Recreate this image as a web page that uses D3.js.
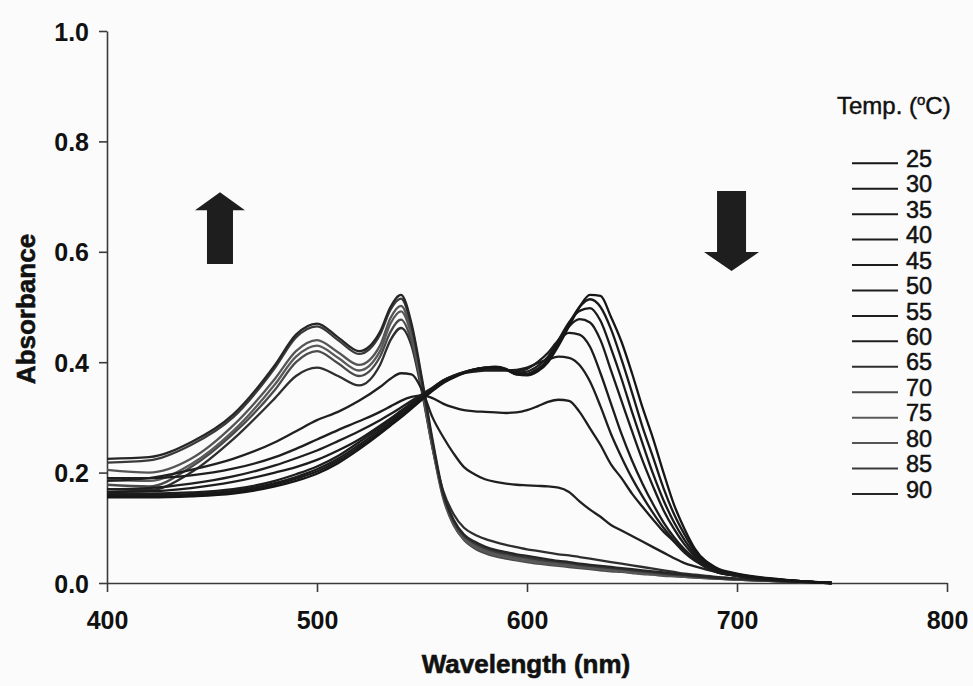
<!DOCTYPE html>
<html><head><meta charset="utf-8">
<script src="https://cdn.jsdelivr.net/npm/d3@7/dist/d3.min.js"></script>
<style>
html,body{margin:0;padding:0;background:#fbfbfb;}
svg{display:block;}
</style></head>
<body>
<svg id="chart" width="973" height="686"></svg>
<script>
// ---- data ----
const wavelengths = [400,420,440,460,480,490,500,510,520,530,535,540,545,550,555,560,565,570,575,580,585,590,595,600,605,610,615,620,625,630,635,640,645,650,655,660,665,670,675,680,690,700,720,745];
const temps = [25,30,35,40,45,50,55,60,65,70,75,80,85,90];
const abs25 = [0.155,0.155,0.157,0.162,0.175,0.185,0.198,0.217,0.242,0.27,0.285,0.3,0.316,0.332,0.348,0.362,0.372,0.38,0.386,0.39,0.392,0.388,0.378,0.376,0.383,0.40,0.43,0.465,0.50,0.522,0.52,0.482,0.437,0.38,0.318,0.262,0.2,0.142,0.098,0.062,0.028,0.017,0.007,0];
const abs30 = [0.157,0.157,0.159,0.164,0.178,0.189,0.202,0.221,0.246,0.273,0.288,0.303,0.318,0.334,0.35,0.364,0.373,0.381,0.387,0.39,0.391,0.387,0.378,0.377,0.385,0.402,0.435,0.47,0.5,0.514,0.5,0.46,0.405,0.345,0.283,0.228,0.172,0.125,0.088,0.057,0.026,0.016,0.006,0];
const abs35 = [0.159,0.159,0.161,0.167,0.181,0.192,0.206,0.225,0.25,0.277,0.291,0.306,0.321,0.336,0.351,0.365,0.374,0.381,0.387,0.39,0.39,0.386,0.379,0.379,0.388,0.405,0.44,0.472,0.493,0.498,0.475,0.425,0.37,0.31,0.253,0.198,0.15,0.11,0.078,0.052,0.024,0.015,0.006,0];
const abs40 = [0.162,0.162,0.164,0.17,0.185,0.197,0.211,0.23,0.255,0.281,0.295,0.309,0.323,0.338,0.352,0.366,0.375,0.382,0.387,0.389,0.389,0.386,0.381,0.383,0.393,0.41,0.44,0.465,0.478,0.472,0.44,0.385,0.33,0.275,0.222,0.175,0.132,0.098,0.07,0.048,0.022,0.014,0.006,0];
const abs45 = [0.165,0.166,0.172,0.183,0.2,0.21,0.223,0.24,0.26,0.285,0.298,0.312,0.326,0.34,0.353,0.367,0.376,0.382,0.386,0.388,0.388,0.386,0.384,0.388,0.4,0.417,0.44,0.453,0.45,0.428,0.38,0.325,0.27,0.222,0.18,0.143,0.11,0.083,0.061,0.044,0.021,0.013,0.005,0];
const abs50 = [0.17,0.172,0.18,0.193,0.213,0.226,0.24,0.257,0.275,0.295,0.306,0.318,0.33,0.342,0.354,0.367,0.375,0.38,0.383,0.385,0.385,0.385,0.386,0.39,0.398,0.405,0.41,0.408,0.395,0.365,0.32,0.27,0.228,0.19,0.157,0.127,0.1,0.077,0.058,0.042,0.02,0.013,0.005,0];
const abs55 = [0.19,0.19,0.195,0.207,0.228,0.243,0.26,0.277,0.293,0.31,0.32,0.33,0.337,0.34,0.335,0.325,0.318,0.313,0.311,0.31,0.309,0.308,0.309,0.313,0.32,0.328,0.332,0.33,0.31,0.28,0.25,0.215,0.19,0.162,0.138,0.115,0.093,0.075,0.055,0.04,0.02,0.013,0.006,0];
const abs60 = [0.185,0.19,0.205,0.225,0.255,0.275,0.295,0.31,0.33,0.355,0.37,0.38,0.378,0.35,0.30,0.265,0.235,0.21,0.197,0.188,0.183,0.18,0.178,0.177,0.176,0.175,0.173,0.165,0.148,0.133,0.12,0.105,0.095,0.085,0.075,0.065,0.055,0.045,0.036,0.03,0.02,0.013,0.006,0];
const abs65 = [0.17,0.168,0.2,0.26,0.335,0.375,0.39,0.375,0.358,0.395,0.44,0.462,0.43,0.345,0.245,0.168,0.125,0.1,0.088,0.08,0.074,0.069,0.065,0.061,0.058,0.055,0.052,0.05,0.047,0.044,0.041,0.038,0.035,0.032,0.029,0.026,0.023,0.02,0.017,0.015,0.011,0.008,0.004,0];
const abs70 = [0.178,0.175,0.21,0.27,0.35,0.40,0.42,0.398,0.375,0.41,0.455,0.477,0.438,0.35,0.245,0.155,0.105,0.078,0.063,0.054,0.048,0.044,0.041,0.038,0.035,0.033,0.031,0.029,0.027,0.025,0.023,0.021,0.02,0.018,0.016,0.015,0.013,0.012,0.011,0.01,0.008,0.006,0.003,0];
const abs75 = [0.187,0.185,0.215,0.275,0.36,0.41,0.43,0.408,0.385,0.42,0.47,0.492,0.448,0.355,0.248,0.158,0.108,0.08,0.066,0.057,0.051,0.047,0.043,0.04,0.037,0.035,0.033,0.031,0.029,0.027,0.025,0.023,0.021,0.019,0.017,0.016,0.014,0.013,0.011,0.01,0.008,0.006,0.003,0];
const abs80 = [0.205,0.2,0.225,0.285,0.37,0.42,0.44,0.418,0.395,0.43,0.48,0.502,0.455,0.36,0.25,0.16,0.11,0.083,0.069,0.06,0.054,0.05,0.046,0.043,0.04,0.037,0.035,0.033,0.031,0.029,0.027,0.025,0.023,0.021,0.019,0.017,0.015,0.014,0.012,0.011,0.008,0.006,0.003,0];
const abs85 = [0.218,0.222,0.25,0.3,0.39,0.445,0.465,0.44,0.415,0.45,0.495,0.515,0.465,0.365,0.255,0.162,0.112,0.085,0.072,0.063,0.057,0.053,0.049,0.046,0.043,0.04,0.038,0.036,0.033,0.031,0.029,0.027,0.025,0.023,0.021,0.019,0.017,0.015,0.014,0.012,0.009,0.007,0.003,0];
const abs90 = [0.225,0.228,0.255,0.305,0.395,0.45,0.47,0.445,0.42,0.455,0.5,0.522,0.47,0.37,0.26,0.165,0.115,0.088,0.075,0.066,0.06,0.056,0.052,0.049,0.046,0.043,0.04,0.038,0.035,0.033,0.031,0.029,0.027,0.025,0.023,0.021,0.019,0.017,0.015,0.013,0.01,0.008,0.004,0];
const xTicks = [400,500,600,700,800];
const yTicks = [0.0,0.2,0.4,0.6,0.8,1.0];
// annotation arrows (wavelength centre, top absorbance, bottom absorbance)
const arrowUp = {wl: 453.8, top: 0.708, bottom: 0.578};
const arrowDown = {wl: 697.4, top: 0.71, bottom: 0.565};

const seriesValues = [abs25,abs30,abs35,abs40,abs45,abs50,abs55,abs60,abs65,abs70,abs75,abs80,abs85,abs90];
const lineColors = ["#161616","#1a1a1a","#1a1a1a","#1c1c1c","#1c1c1c","#1e1e1e","#1e1e1e","#202020","#2e2e2e","#4a4a4a","#5a5a5a","#555555","#3a3a3a","#262626"];

// ---- chart ----
const svg = d3.select("#chart");
const x = d3.scaleLinear().domain([400,800]).range([107,947]);
const y = d3.scaleLinear().domain([0,1]).range([583,31]);

const fontMain = "'Liberation Sans', Arial, sans-serif";

// axes
const xAxis = svg.append("g").attr("transform", `translate(0,${y(0)})`)
  .call(d3.axisBottom(x).tickValues(xTicks).tickSize(9).tickSizeOuter(0).tickPadding(19).tickFormat(d3.format("d")));
const yAxis = svg.append("g").attr("transform", `translate(${x(400)},0)`)
  .call(d3.axisLeft(y).tickValues(yTicks).tickSize(8).tickSizeOuter(0).tickPadding(10).tickFormat(d3.format(".1f")));
[xAxis, yAxis].forEach(g => {
  g.select(".domain").attr("stroke", "#3a3a3a").attr("stroke-width", 1.6);
  g.selectAll(".tick line").attr("stroke", "#3a3a3a").attr("stroke-width", 1.6);
  g.selectAll(".tick text").attr("font-family", fontMain).attr("font-size", 25)
    .attr("font-weight", "bold").attr("fill", "#111");
});
yAxis.selectAll(".tick text").attr("dy", "0.36em");

// axis titles
svg.append("text").attr("x", 526).attr("y", 673).attr("text-anchor", "middle")
  .attr("font-family", fontMain).attr("font-size", 26).attr("font-weight", "bold")
  .attr("fill", "#111").attr("stroke", "#111").attr("stroke-width", 0.6)
  .text("Wavelength (nm)");
svg.append("text").attr("transform", "translate(35,309) rotate(-90)").attr("text-anchor", "middle")
  .attr("font-family", fontMain).attr("font-size", 26).attr("font-weight", "bold")
  .attr("fill", "#111").attr("stroke", "#111").attr("stroke-width", 0.6)
  .text("Absorbance");

// curves
const line = d3.line().x((d, i) => x(wavelengths[i])).y(d => y(d)).curve(d3.curveMonotoneX);
const drawOrder = [8,9,10,11,12,13,7,6,5,4,3,2,1,0];
svg.append("g").selectAll("path").data(drawOrder).join("path")
  .attr("d", k => line(seriesValues[k]))
  .attr("fill", "none")
  .attr("stroke", k => lineColors[k])
  .attr("stroke-width", 2.3)
  .attr("stroke-linejoin", "round");

// arrows
function arrowPath(a, up) {
  const cx = x(a.wl), yt = y(a.top), yb = y(a.bottom);
  const hw = up ? 25 : 27.5, sw = up ? 13 : 14.5, hh = up ? 18 : 19;
  if (up) {
    return `M${cx},${yt} L${cx+hw},${yt+hh} L${cx+sw},${yt+hh} L${cx+sw},${yb} L${cx-sw},${yb} L${cx-sw},${yt+hh} L${cx-hw},${yt+hh} Z`;
  }
  return `M${cx-sw},${yt} L${cx+sw},${yt} L${cx+sw},${yb-hh} L${cx+hw},${yb-hh} L${cx},${yb} L${cx-hw},${yb-hh} L${cx-sw},${yb-hh} Z`;
}
svg.append("path").attr("d", arrowPath(arrowUp, true)).attr("fill", "#1e1e1e");
svg.append("path").attr("d", arrowPath(arrowDown, false)).attr("fill", "#1e1e1e");

// legend
const leg = svg.append("g");
const title = leg.append("text").attr("x", 837).attr("y", 114)
  .attr("font-family", fontMain).attr("font-size", 24).attr("fill", "#111")
  .attr("stroke", "#111").attr("stroke-width", 0.45);
title.append("tspan").text("Temp. (");
title.append("tspan").attr("font-size", 15).attr("dy", -9).text("o");
title.append("tspan").attr("dy", 9).text("C)");

const ly = d3.scaleLinear().domain([0, temps.length - 1]).range([163.3, 494]);
const items = leg.selectAll("g.item").data(temps).join("g").attr("class", "item");
items.append("line").attr("x1", 852).attr("x2", 898)
  .attr("y1", (d, i) => ly(i)).attr("y2", (d, i) => ly(i))
  .attr("stroke", (d, i) => lineColors[i]).attr("stroke-width", 2);
items.append("text").attr("x", 906).attr("y", (d, i) => ly(i) + 3.6)
  .attr("font-family", fontMain).attr("font-size", 23.5).attr("fill", "#111")
  .attr("stroke", "#111").attr("stroke-width", 0.5)
  .text(d => d);
</script>
</body></html>
